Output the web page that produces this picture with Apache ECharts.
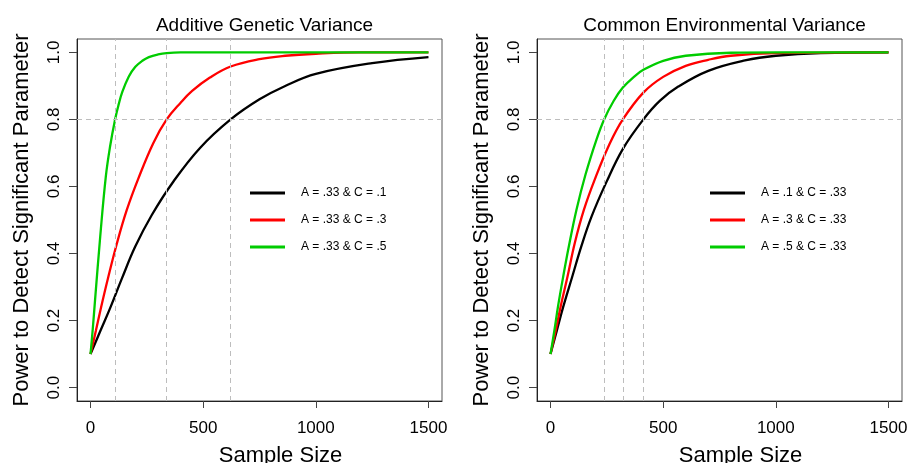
<!DOCTYPE html>
<html>
<head>
<meta charset="utf-8">
<title>Power curves</title>
<script src="https://cdn.jsdelivr.net/npm/echarts@6/dist/echarts.min.js"></script>
<style>
	html, body { margin: 0; padding: 0; background: #fff; }
	#chart { width: 917px; height: 463px; }
</style>
</head>
<body>
<div id="chart"></div>
<script>
	// x tick / y tick labels
	var xTicks = [0, 500, 1000, 1500];
	var yTicks = [0, 0.2, 0.4, 0.6, 0.8, 1.0];
	var powerLevel = 0.8;

	// left panel: Additive Genetic Variance  [sample size, power]
	var namesA = ['A = .33 & C = .1', 'A = .33 & C = .3', 'A = .33 & C = .5'];
	var blackA = [[0,0.10],[43,0.168],[87,0.237],[139,0.325],[198,0.42],[272,0.515],[368,0.615],[486,0.715],[622,0.80],[750,0.86],[864,0.90],[1000,0.936],[1250,0.968],[1500,0.986]];
	var redA = [[0,0.10],[24,0.17],[47,0.24],[77,0.325],[117,0.43],[161,0.53],[213,0.625],[279,0.73],[338,0.80],[400,0.85],[451,0.885],[530,0.925],[622,0.958],[750,0.98],[864,0.99],[1000,0.996],[1200,1.0],[1500,1.0]];
	var greenA = [[0,0.10],[10,0.175],[20,0.26],[43,0.45],[68,0.63],[87,0.72],[109,0.80],[125,0.845],[140,0.88],[170,0.928],[199,0.957],[230,0.975],[259,0.986],[300,0.994],[338,0.998],[400,1.0],[500,1.0],[1000,1.0],[1500,1.0]];
	var cutA = [109, 338, 622];

	// right panel: Common Environmental Variance
	var namesC = ['A = .1 & C = .33', 'A = .3 & C = .33', 'A = .5 & C = .33'];
	var blackC = [[0,0.10],[28,0.17],[56,0.24],[96,0.33],[137,0.422],[182,0.51],[248,0.613],[322,0.713],[412,0.80],[486,0.856],[567,0.898],[700,0.945],[863,0.976],[1000,0.99],[1200,0.998],[1500,1.0]];
	var redC = [[0,0.10],[23,0.17],[46,0.245],[75,0.33],[108,0.432],[148,0.53],[197,0.622],[263,0.728],[321,0.80],[412,0.88],[500,0.927],[600,0.96],[700,0.978],[800,0.99],[1000,0.998],[1500,1.0]];
	var greenC = [[0,0.10],[17,0.17],[34,0.245],[56,0.33],[81,0.42],[115,0.53],[155,0.635],[204,0.74],[238,0.80],[280,0.855],[321,0.895],[370,0.927],[412,0.948],[500,0.975],[600,0.99],[800,0.999],[1000,1.0],[1500,1.0]];
	var cutC = [238, 321, 412];

	var colors = ['#000000', '#ff0000', '#00cc00'];
	var font = 'Liberation Sans, Arial, Helvetica, sans-serif';

	function xAxisOf(idx) {
		return {
			gridIndex: idx, type: 'value', min: -60, max: 1560,
			name: 'Sample Size', nameLocation: 'middle', nameGap: 44,
			nameTextStyle: { fontFamily: font, fontSize: 22, color: '#000', padding: [0, 0, 0, 42] },
			axisLine: { show: true, onZero: false, lineStyle: { color: '#222', width: 1 } },
			axisTick: { show: true, inside: false, length: 7, customValues: xTicks, lineStyle: { color: '#444' } },
			axisLabel: {
				customValues: xTicks, margin: 19, fontFamily: font, fontSize: 17, color: '#000',
				formatter: function (v) { return String(v); }
			},
			splitLine: { show: false }
		};
	}
	function yAxisOf(idx) {
		return {
			gridIndex: idx, type: 'value', min: -0.04, max: 1.04,
			name: 'Power to Detect Significant Parameter', nameLocation: 'middle', nameGap: 44, nameRotate: 90,
			nameTextStyle: { fontFamily: font, fontSize: 22, color: '#000' },
			axisLine: { show: true, onZero: false, lineStyle: { color: '#222', width: 1 } },
			axisTick: { show: true, inside: false, length: 8, customValues: yTicks, lineStyle: { color: '#444' } },
			axisLabel: {
				customValues: yTicks, rotate: 90, margin: 14, fontFamily: font, fontSize: 17, color: '#000',
				formatter: function (v) { return v.toFixed(1); }
			},
			splitLine: { show: false }
		};
	}
	function curve(name, data, idx, color) {
		return {
			name: name, type: 'line', xAxisIndex: idx, yAxisIndex: idx, data: data,
			smooth: 0.4, symbol: 'none', z: 3,
			lineStyle: { color: color, width: 2.3 }, itemStyle: { color: color }
		};
	}
	// dashed guide lines at power .8 and where each curve reaches it
	function guides(cuts, idx) {
		var d = cuts.map(function (v) { return { xAxis: v }; });
		d.push({ yAxis: powerLevel });
		return {
			type: 'line', xAxisIndex: idx, yAxisIndex: idx, data: [], z: 1, silent: true,
			markLine: {
				silent: true, symbol: ['none', 'none'], label: { show: false },
				lineStyle: { color: '#bdbdbd', type: [5, 4], width: 1 },
				emphasis: { disabled: true }, data: d
			}
		};
	}
	function legendOf(names, left) {
		return {
			data: names, orient: 'vertical', left: left, top: 186, padding: 0,
			icon: 'rect', itemWidth: 35, itemHeight: 3, itemGap: 13, selectedMode: false,
			textStyle: { fontFamily: font, fontSize: 12, color: '#000', padding: [0, 0, 0, 11], lineHeight: 14 }
		};
	}

	var chart = echarts.init(document.getElementById('chart'));
	var gridBase = { top: 39, width: 365, height: 362, show: true, borderColor: '#555', borderWidth: 1,
		backgroundColor: 'transparent', containLabel: false, outerBoundsMode: 'none' };
	var option = {
		animation: false,
		backgroundColor: '#fff',
		title: [
			{ text: 'Additive Genetic Variance', left: 259.5, top: 11, textAlign: 'center',
				textStyle: { fontFamily: font, fontSize: 19, fontWeight: 'normal', color: '#000' } },
			{ text: 'Common Environmental Variance', left: 719.5, top: 11, textAlign: 'center',
				textStyle: { fontFamily: font, fontSize: 19, fontWeight: 'normal', color: '#000' } }
		],
		grid: [
			Object.assign({ left: 77 }, gridBase),
			Object.assign({ left: 537 }, gridBase)
		],
		legend: [legendOf(namesA, 250), legendOf(namesC, 710)],
		xAxis: [xAxisOf(0), xAxisOf(1)],
		yAxis: [yAxisOf(0), yAxisOf(1)],
		series: [
			guides(cutA, 0),
			curve(namesA[0], blackA, 0, colors[0]),
			curve(namesA[1], redA, 0, colors[1]),
			curve(namesA[2], greenA, 0, colors[2]),
			guides(cutC, 1),
			curve(namesC[0], blackC, 1, colors[0]),
			curve(namesC[1], redC, 1, colors[1]),
			curve(namesC[2], greenC, 1, colors[2])
		]
	};
	chart.setOption(option);
</script>
</body>
</html>
